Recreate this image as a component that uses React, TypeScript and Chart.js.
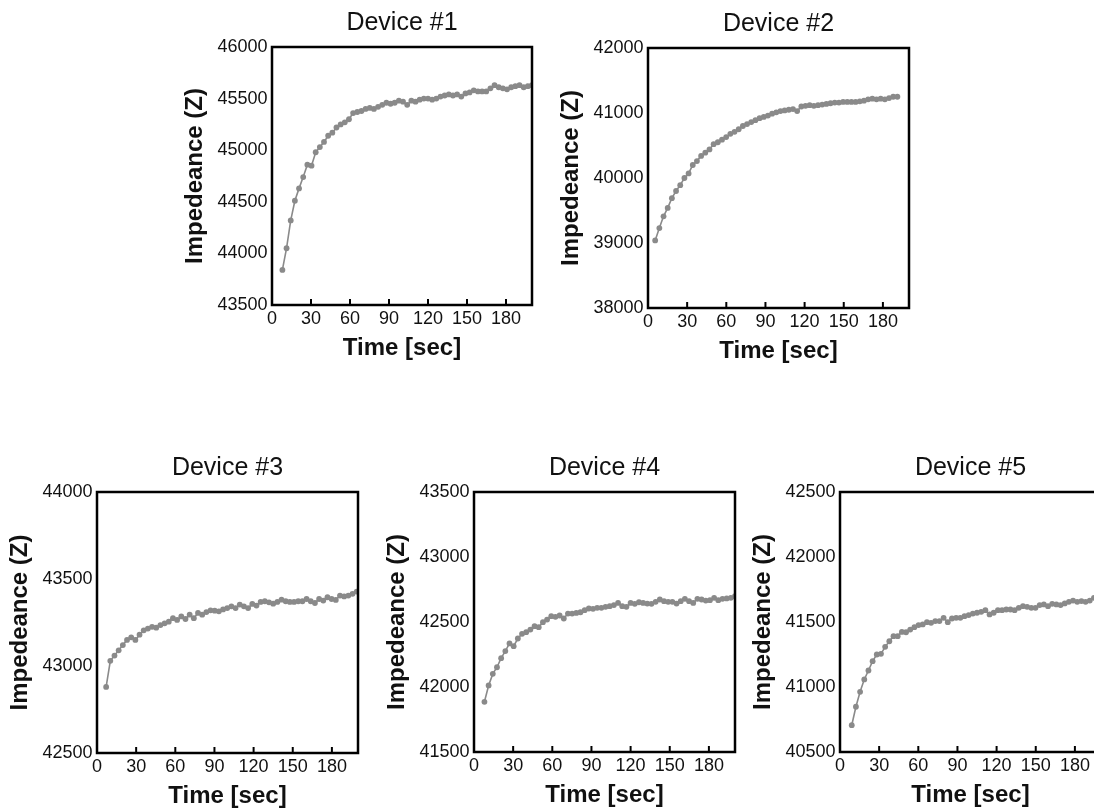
import React, { useEffect, useRef } from "react";
import { Chart, registerables } from "chart.js";

Chart.register(...registerables);

// ---------- data ----------
const TITLES = ["Device #1", "Device #2", "Device #3", "Device #4", "Device #5"];

const X_TICK_STEP = 30;
const X_MIN = 0;
const X_MAX = 200;

const Y_MIN = [43500, 38000, 42500, 41500, 40500];
const Y_MAX = [46000, 42000, 44000, 43500, 42500];
const Y_STEP = [500, 1000, 500, 500, 500];

const TIME_1 = [8.0, 11.2, 14.4, 17.6, 20.8, 24.0, 27.2, 30.4, 33.6, 36.8, 40.0, 43.2, 46.4, 49.6, 52.8, 56.0, 59.2, 62.4, 65.6, 68.8, 72.0, 75.2, 78.4, 81.6, 84.8, 88.0, 91.2, 94.4, 97.6, 100.8, 104.0, 107.2, 110.4, 113.6, 116.8, 120.0, 123.2, 126.4, 129.6, 132.8, 136.0, 139.2, 142.4, 145.6, 148.8, 152.0, 155.2, 158.4, 161.6, 164.8, 168.0, 171.2, 174.4, 177.6, 180.8, 184.0, 187.2, 190.4, 193.6, 196.8, 200.0];
const IMP_1 = [43840, 44050, 44320, 44510, 44630, 44740, 44860, 44850, 44980, 45030, 45080, 45140, 45170, 45220, 45250, 45270, 45300, 45360, 45370, 45380, 45400, 45410, 45400, 45420, 45440, 45460, 45450, 45460, 45480, 45470, 45440, 45480, 45470, 45490, 45500, 45500, 45490, 45500, 45520, 45530, 45540, 45530, 45540, 45520, 45550, 45560, 45580, 45570, 45570, 45570, 45600, 45630, 45610, 45600, 45590, 45610, 45620, 45630, 45610, 45620, 45630];

const TIME_2 = [5.5, 8.7, 11.9, 15.1, 18.3, 21.5, 24.7, 27.9, 31.1, 34.3, 37.5, 40.7, 43.9, 47.1, 50.3, 53.5, 56.7, 59.9, 63.1, 66.3, 69.5, 72.7, 75.9, 79.1, 82.3, 85.5, 88.7, 91.9, 95.1, 98.3, 101.5, 104.7, 107.9, 111.1, 114.3, 117.5, 120.7, 123.9, 127.1, 130.3, 133.5, 136.7, 139.9, 143.1, 146.3, 149.5, 152.7, 155.9, 159.1, 162.3, 165.5, 168.7, 171.9, 175.1, 178.3, 181.5, 184.7, 187.9, 191.1];
const IMP_2 = [39040, 39230, 39410, 39540, 39690, 39800, 39890, 40000, 40070, 40200, 40260, 40340, 40390, 40440, 40520, 40550, 40590, 40630, 40680, 40710, 40750, 40800, 40830, 40860, 40890, 40920, 40940, 40960, 40990, 41010, 41030, 41040, 41050, 41060, 41030, 41100, 41110, 41120, 41110, 41120, 41130, 41140, 41150, 41160, 41160, 41170, 41170, 41170, 41170, 41180, 41190, 41210, 41220, 41210, 41220, 41210, 41230, 41250, 41250];

const TIME_3 = [7.0, 10.2, 13.4, 16.6, 19.8, 23.0, 26.2, 29.4, 32.6, 35.8, 39.0, 42.2, 45.4, 48.6, 51.8, 55.0, 58.2, 61.4, 64.6, 67.8, 71.0, 74.2, 77.4, 80.6, 83.8, 87.0, 90.2, 93.4, 96.6, 99.8, 103.0, 106.2, 109.4, 112.6, 115.8, 119.0, 122.2, 125.4, 128.6, 131.8, 135.0, 138.2, 141.4, 144.6, 147.8, 151.0, 154.2, 157.4, 160.6, 163.8, 167.0, 170.2, 173.4, 176.6, 179.8, 183.0, 186.2, 189.4, 192.6, 195.8, 199.0];
const IMP_3 = [42880, 43030, 43060, 43090, 43120, 43150, 43165, 43150, 43180, 43205, 43215, 43225, 43220, 43235, 43245, 43255, 43275, 43265, 43285, 43270, 43295, 43275, 43305, 43295, 43310, 43320, 43318, 43314, 43325, 43333, 43343, 43333, 43353, 43343, 43333, 43357, 43347, 43368, 43372, 43366, 43358, 43368, 43381, 43372, 43368, 43368, 43372, 43372, 43385, 43372, 43362, 43385, 43376, 43395, 43385, 43380, 43405, 43400, 43405, 43415, 43428];

const TIME_4 = [8.0, 11.2, 14.4, 17.6, 20.8, 24.0, 27.2, 30.4, 33.6, 36.8, 40.0, 43.2, 46.4, 49.6, 52.8, 56.0, 59.2, 62.4, 65.6, 68.8, 72.0, 75.2, 78.4, 81.6, 84.8, 88.0, 91.2, 94.4, 97.6, 100.8, 104.0, 107.2, 110.4, 113.6, 116.8, 120.0, 123.2, 126.4, 129.6, 132.8, 136.0, 139.2, 142.4, 145.6, 148.8, 152.0, 155.2, 158.4, 161.6, 164.8, 168.0, 171.2, 174.4, 177.6, 180.8, 184.0, 187.2, 190.4, 193.6, 196.8, 200.0];
const IMP_4 = [41886, 42012, 42101, 42152, 42222, 42276, 42335, 42314, 42373, 42409, 42422, 42442, 42468, 42460, 42499, 42519, 42545, 42540, 42550, 42527, 42565, 42565, 42570, 42575, 42591, 42604, 42601, 42609, 42609, 42617, 42622, 42630, 42647, 42622, 42617, 42647, 42640, 42652, 42647, 42642, 42640, 42655, 42673, 42660, 42655, 42655, 42642, 42660, 42678, 42660, 42647, 42678, 42673, 42665, 42668, 42686, 42668, 42678, 42681, 42686, 42699];

const TIME_5 = [9.0, 12.2, 15.4, 18.6, 21.8, 25.0, 28.2, 31.4, 34.6, 37.8, 41.0, 44.2, 47.4, 50.6, 53.8, 57.0, 60.2, 63.4, 66.6, 69.8, 73.0, 76.2, 79.4, 82.6, 85.8, 89.0, 92.2, 95.4, 98.6, 101.8, 105.0, 108.2, 111.4, 114.6, 117.8, 121.0, 124.2, 127.4, 130.6, 133.8, 137.0, 140.2, 143.4, 146.6, 149.8, 153.0, 156.2, 159.4, 162.6, 165.8, 169.0, 172.2, 175.4, 178.6, 181.8, 185.0, 188.2, 191.4, 194.6, 197.8, 201.0];
const IMP_5 = [40706, 40848, 40963, 41058, 41127, 41199, 41250, 41255, 41309, 41352, 41391, 41391, 41424, 41421, 41442, 41460, 41476, 41481, 41499, 41494, 41507, 41507, 41532, 41499, 41527, 41532, 41532, 41545, 41553, 41565, 41571, 41578, 41591, 41558, 41571, 41591, 41591, 41596, 41596, 41591, 41609, 41622, 41617, 41609, 41609, 41630, 41635, 41622, 41640, 41635, 41630, 41643, 41655, 41665, 41655, 41661, 41655, 41665, 41686, 41690, 41700];

const TIMES = [TIME_1, TIME_2, TIME_3, TIME_4, TIME_5];
const VALUES = [IMP_1, IMP_2, IMP_3, IMP_4, IMP_5];

const X_LABEL = "Time [sec]";
const Y_LABEL = "Impedeance (Z)";

// ---------- layout (chart-area boxes in page pixels) ----------
const AREAS = [
  { l: 272, t: 47, r: 532, b: 305 },
  { l: 648, t: 48, r: 909, b: 308 },
  { l: 97, t: 492, r: 358, b: 753 },
  { l: 474, t: 492, r: 735, b: 752 },
  { l: 840, t: 492, r: 1101, b: 752 },
];
const Y_W = 95;
const X_H = 60;
const TITLE_H = 42; // 3 + 30 + 9
const PAD_R = 12;
const FONT = "'Liberation Sans', Arial, Helvetica, sans-serif";
const GRAY = "#8a8a8a";
const INK = "#111111";

const framePlugin = {
  id: "frameAndTicks",
  afterDatasetsDraw(chart: any) {
    const { ctx, chartArea } = chart;
    const xs = chart.scales.x;
    ctx.save();
    ctx.strokeStyle = "#000";
    ctx.lineWidth = 2;
    xs.ticks.forEach((tk: any) => {
      if (tk.value <= xs.min || tk.value >= xs.max) return;
      const px = xs.getPixelForValue(tk.value);
      ctx.beginPath();
      ctx.moveTo(px, chartArea.bottom);
      ctx.lineTo(px, chartArea.bottom - 6);
      ctx.stroke();
    });
    ctx.lineWidth = 2.5;
    ctx.strokeRect(
      chartArea.left,
      chartArea.top,
      chartArea.right - chartArea.left,
      chartArea.bottom - chartArea.top
    );
    ctx.restore();
  },
};

function Panel({ idx }: { idx: number }) {
  const ref = useRef<HTMLCanvasElement | null>(null);
  const a = AREAS[idx];
  const left = a.l - Y_W;
  const top = a.t - TITLE_H;
  const width = Y_W + (a.r - a.l) + PAD_R;
  const height = TITLE_H + (a.b - a.t) + X_H;

  useEffect(() => {
    if (!ref.current) return;
    const data = TIMES[idx].map((t, i) => ({ x: t, y: VALUES[idx][i] }));
    const chart = new Chart(ref.current, {
      type: "line",
      data: {
        datasets: [
          {
            data,
            borderColor: GRAY,
            backgroundColor: GRAY,
            borderWidth: 1.6,
            pointRadius: 2.9,
            pointBorderWidth: 0,
            pointBackgroundColor: GRAY,
            tension: 0,
          },
        ],
      },
      options: {
        responsive: false,
        animation: false,
        layout: { padding: { left: 0, right: PAD_R, top: 0, bottom: 0 } },
        plugins: {
          legend: { display: false },
          tooltip: { enabled: false },
          title: {
            display: true,
            text: TITLES[idx],
            fullSize: false,
            color: INK,
            font: { family: FONT, size: 25, weight: "normal", lineHeight: 1.2 },
            padding: { top: 3, bottom: 9 },
          },
        },
        scales: {
          x: {
            type: "linear",
            min: X_MIN,
            max: X_MAX,
            grid: { display: false, drawTicks: false },
            border: { display: false },
            ticks: {
              stepSize: X_TICK_STEP,
              includeBounds: false,
              color: INK,
              padding: 3,
              maxRotation: 0,
              font: { family: FONT, size: 18 },
              callback: (v: any) => String(v),
            },
            title: {
              display: true,
              text: X_LABEL,
              color: INK,
              font: { family: FONT, size: 24, weight: "bold", lineHeight: 1.2 },
              padding: { top: 0, bottom: 2 },
            },
            afterFit: (s: any) => {
              s.height = X_H;
            },
          },
          y: {
            type: "linear",
            min: Y_MIN[idx],
            max: Y_MAX[idx],
            grid: { display: false, drawTicks: false },
            border: { display: false },
            ticks: {
              stepSize: Y_STEP[idx],
              color: INK,
              padding: 4.5,
              font: { family: FONT, size: 18 },
              callback: (v: any) => String(v),
            },
            title: {
              display: true,
              text: Y_LABEL,
              color: INK,
              font: { family: FONT, size: 24, weight: "bold", lineHeight: 1.2 },
              padding: { top: 4, bottom: 0 },
            },
            afterFit: (s: any) => {
              s.width = Y_W;
            },
          },
        },
      },
      plugins: [framePlugin],
    });
    return () => chart.destroy();
  }, [idx]);

  return (
    <canvas
      ref={ref}
      width={width}
      height={height}
      style={{ position: "absolute", left, top, width, height }}
    />
  );
}

export default function App() {
  return (
    <div
      style={{
        position: "fixed",
        left: 0,
        top: 0,
        width: 1094,
        height: 809,
        overflow: "hidden",
        background: "#fff",
      }}
    >
      {TITLES.map((_, i) => (
        <Panel key={i} idx={i} />
      ))}
    </div>
  );
}
